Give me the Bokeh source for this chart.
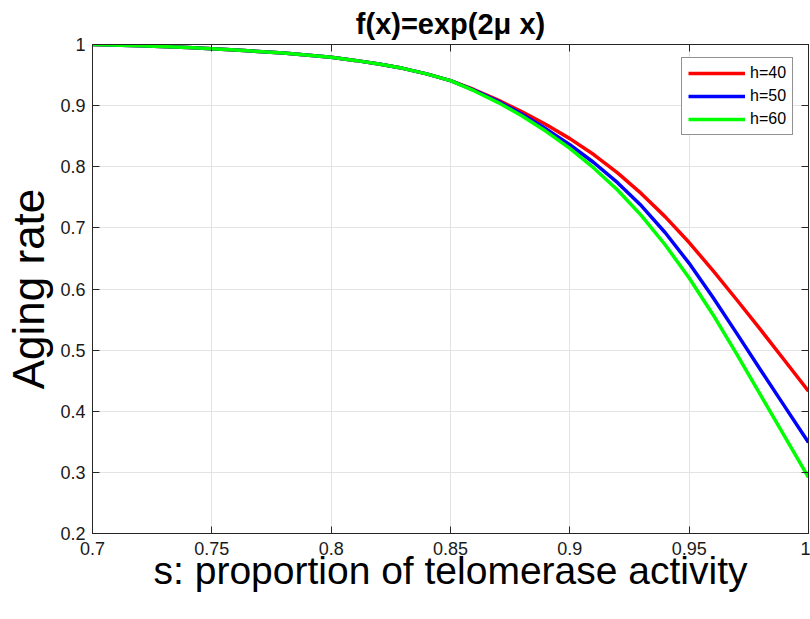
from bokeh.plotting import figure
from bokeh.models import Range1d, FixedTicker, LinearAxis, Legend, LegendItem
from bokeh.embed import file_html
from bokeh.resources import INLINE

# ---- data ----
s_values = [0.70, 0.72, 0.74, 0.76, 0.78, 0.80, 0.81, 0.82, 0.83, 0.84, 0.85,
            0.86, 0.87, 0.88, 0.89, 0.90, 0.91, 0.92, 0.93, 0.94, 0.95,
            0.96, 0.97, 0.98, 0.99, 1.00]
rate_h40 = [1.000, 0.998, 0.995, 0.991, 0.986, 0.979, 0.974, 0.968, 0.961, 0.952, 0.941,
            0.926, 0.909, 0.890, 0.869, 0.846, 0.820, 0.790, 0.756, 0.718, 0.676,
            0.630, 0.582, 0.533, 0.483, 0.433]
rate_h50 = [1.000, 0.998, 0.995, 0.991, 0.986, 0.979, 0.974, 0.968, 0.961, 0.952, 0.941,
            0.925, 0.907, 0.886, 0.862, 0.836, 0.807, 0.774, 0.736, 0.692, 0.642,
            0.586, 0.527, 0.467, 0.408, 0.349]
rate_h60 = [1.000, 0.998, 0.995, 0.991, 0.986, 0.979, 0.974, 0.968, 0.961, 0.952, 0.941,
            0.924, 0.905, 0.883, 0.858, 0.830, 0.798, 0.762, 0.720, 0.672, 0.618,
            0.558, 0.493, 0.426, 0.359, 0.292]
series_labels = ["h=40", "h=50", "h=60"]
series_colors = ["#ff0000", "#0000ff", "#00ff00"]

x_ticks = [0.7, 0.75, 0.8, 0.85, 0.9, 0.95, 1.0]
x_tick_labels = ["0.7", "0.75", "0.8", "0.85", "0.9", "0.95", "1"]
y_ticks = [0.2, 0.3, 0.4, 0.5, 0.6, 0.7, 0.8, 0.9, 1.0]
y_tick_labels = ["0.2", "0.3", "0.4", "0.5", "0.6", "0.7", "0.8", "0.9", "1"]

title_text = "f(x)=exp(2\u03bc x)"
x_label = "s: proportion of telomerase activity"
y_label = "Aging rate"

FONT = "Liberation Sans"
DARK = "#262626"

p = figure(width=810, height=619, output_backend="svg", toolbar_location=None,
           x_range=Range1d(0.7, 1.0), y_range=Range1d(0.2, 1.0),
           min_border_left=92, min_border_right=2, min_border_top=43,
           min_border_bottom=86)
p.background_fill_color = "white"
p.border_fill_color = "white"
p.outline_line_color = DARK
p.outline_line_width = 1

p.title.text = title_text
p.title.align = "center"
p.title.text_font = FONT
p.title.text_font_size = "29px"
p.title.text_font_style = "bold"
p.title.text_color = "black"
p.title.standoff = 10

renderers = []
for ys, c in zip([rate_h40, rate_h50, rate_h60], series_colors):
    r = p.line(s_values, ys, line_color=c, line_width=3.5, line_join="round")
    renderers.append(r)

# axes
xax = p.xaxis[0]
yax = p.yaxis[0]
xax.ticker = FixedTicker(ticks=x_ticks)
yax.ticker = FixedTicker(ticks=y_ticks)
xax.major_label_overrides = dict(zip(x_ticks, x_tick_labels))
yax.major_label_overrides = dict(zip(y_ticks, y_tick_labels))
for ax in (xax, yax):
    ax.axis_line_color = DARK
    ax.major_tick_line_color = DARK
    ax.major_tick_in = 7
    ax.major_tick_out = 0
    ax.minor_tick_line_color = None
    ax.major_label_text_font = FONT
    ax.major_label_text_font_size = "18px"
    ax.major_label_text_color = "#1a1a1a"
    ax.axis_label_text_font = FONT
    ax.axis_label_text_font_style = "normal"
    ax.axis_label_text_color = "black"
xax.major_label_standoff = 8
yax.major_label_standoff = 7
xax.axis_label = x_label
xax.axis_label_text_font_size = "39px"
xax.axis_label_standoff = -9
yax.axis_label = y_label
yax.axis_label_text_font_size = "44px"
yax.axis_label_standoff = 4

# box axes (top / right): ticks only, no labels
for loc, ticks in (("above", x_ticks), ("right", y_ticks)):
    ax = LinearAxis(ticker=FixedTicker(ticks=ticks))
    ax.axis_line_color = DARK
    ax.major_tick_line_color = DARK
    ax.major_tick_in = 7
    ax.major_tick_out = 0
    ax.minor_tick_line_color = None
    ax.major_label_text_font_size = "0px"
    ax.major_label_text_color = None
    ax.major_label_standoff = 0
    p.add_layout(ax, loc)

p.grid.grid_line_color = "#e3e3e3"
p.grid.grid_line_width = 1
p.xgrid.ticker = FixedTicker(ticks=x_ticks)
p.ygrid.ticker = FixedTicker(ticks=y_ticks)

legend = Legend(items=[LegendItem(label=l, renderers=[r]) for l, r in zip(series_labels, renderers)],
                location=(589, 398))
legend.label_text_font = FONT
legend.label_text_font_size = "16px"
legend.label_text_color = "black"
legend.glyph_width = 57
legend.glyph_height = 18
legend.label_height = 18
legend.label_standoff = 5
legend.padding = 6
legend.spacing = 5
legend.margin = 0
legend.border_line_color = DARK
legend.border_line_width = 1
legend.background_fill_color = "white"
legend.background_fill_alpha = 1
p.add_layout(legend, "center")

open("out.html", "w").write(file_html(p, INLINE))
